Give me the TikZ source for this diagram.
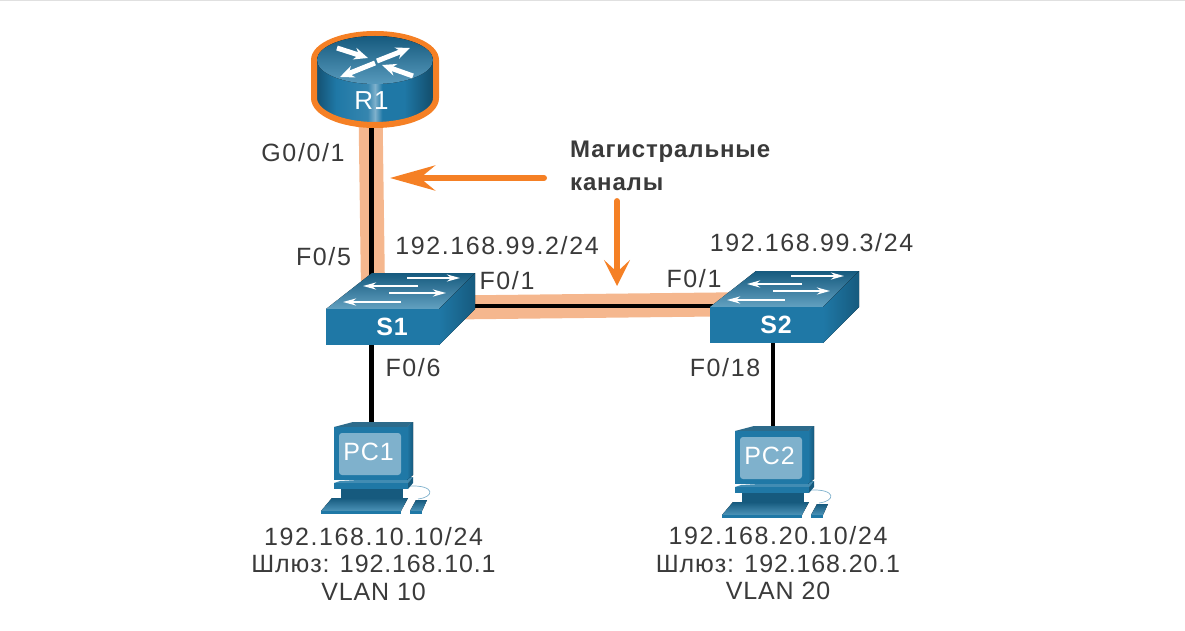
\documentclass[tikz,border=0pt]{standalone}
\usepackage{fontspec}
\setmainfont[LetterSpace=3.5]{Liberation Sans}
\newfontfamily\ipfont[LetterSpace=6.5]{Liberation Sans}
\usepackage{xcolor}
\usepackage{tikz}
\usetikzlibrary{arrows.meta,backgrounds}

\definecolor{trunkband}{HTML}{F5B78E}
\definecolor{callout}{HTML}{F58025}
\definecolor{textgray}{HTML}{3A3A3A}
\definecolor{devfront}{HTML}{1F78A6}
\definecolor{devdark}{HTML}{165A7E}
\definecolor{devlight}{HTML}{7FB1CC}

\pgfdeclarehorizontalshading{routerside}{100bp}{color(0bp)=(devdark!85!black); color(25bp)=(devdark!85!black); color(34bp)=(devfront); color(47bp)=(devfront!90!white); color(50bp)=(devlight); color(53bp)=(devfront); color(62bp)=(devfront); color(75bp)=(devdark!80!black); color(100bp)=(devdark!80!black)}

\newcommand{\switchdev}[4]{%
\begin{scope}[shift={(#1,#2)}]
\fill[top color=devdark, bottom color=devfront!70!white] (0,0) -- (46,-36) -- (149,-36) -- (113,0) -- cycle;
\fill[left color=devfront, right color=devdark] (113,0) -- (149,-36) -- (149,0) -- (113,36) -- cycle;
\fill[devfront] (0,0) rectangle (113,36);
\draw[minisw] (81,-31) -- (134,-31);
\draw[minisw] (92,-23) -- (37,-23);
\draw[minisw] (63,-16) -- (120,-16);
\draw[minisw] (75,-7) -- (17,-7);
\node[devlabel, font=\fontsize{25}{28}\selectfont\bfseries] (#3) at (66,18) {#4};
\end{scope}
}

\newcommand{\pcdev}[4]{%
\begin{scope}[shift={(#1,#2)}]
\draw[devlight, line width=0.7pt] (100,71) .. controls (125,70) and (125,82) .. (108,84);
\fill[devdark] (31,74) rectangle (93,83);
\fill[devfront!85!white] (30,66) -- (103,62) -- (98,68) -- (24,68) -- cycle;
\fill[devfront] (24,68) rectangle (98,74);
\fill[devdark] (98,68) -- (103,62) -- (103,68) -- (98,74) -- cycle;
\fill[left color=devfront, right color=devdark] (97,12) -- (103,7) -- (103,60) -- (97,65) -- cycle;
\fill[devdark!90!white] (24,12) -- (43,7) -- (103,7) -- (97,12) -- cycle;
\fill[devfront] (24,12) rectangle (97,65);
\fill[devlight, rounded corners=3pt] (29,18) rectangle (91,60);
\fill[top color=devdark, bottom color=devfront!80!white] (11,96) -- (22,83) -- (98,83) -- (91,96) -- cycle;
\fill[devfront] (11,96) rectangle (91,99);
\fill[top color=devdark, bottom color=devfront!80!white] (100,96) -- (106,85) -- (117,85) -- (112,96) -- cycle;
\fill[devfront] (100,96) rectangle (112,99);
\node[devlabel] (#3) at (58.5,37) {#4};
\end{scope}
}

\begin{document}
\begin{tikzpicture}[x=1pt, y=-1pt, >={Stealth},
 devlabel/.style={text=white, inner sep=0pt, font=\fontsize{25}{28}\selectfont},
 minisw/.style={-{Stealth[length=13pt,width=7pt]}, white, line width=2.5pt},
 minirt/.style={-{Stealth[length=14pt,width=12pt]}, white, line width=5pt},
 netlabel/.style={text=textgray, inner sep=0pt, align=center, font=\fontsize{25}{27.5}\selectfont},
 portlabel/.style={netlabel, font=\fontsize{25}{28}\ipfont},
 callarrow/.style={callout, line width=6pt, line cap=round},
 band/.style={trunkband, line width=24pt},
 cable/.style={black, line width=4.5pt}]

\useasboundingbox (0,0) rectangle (1185,631);
\draw[black!12, line width=1pt] (0,0.5) -- (1185,0.5);

% router
\fill[shading=routerside, draw=callout, line width=6pt] (314,60) arc[start angle=180, end angle=360, x radius=61, y radius=26] -- (436,98) arc[start angle=0, end angle=180, x radius=61, y radius=27] -- cycle;
\fill[top color=devdark, bottom color=devfront!75!white] (375,60) ellipse[x radius=58, y radius=24];
\draw[minirt] (337,48) -- (368,58);
\draw[minirt] (377,61) -- (410,48);
\draw[minirt] (375,63) -- (340,77);
\draw[minirt] (413,76) -- (382,65);
\node[devlabel, font=\fontsize{26}{28}\selectfont] (R1) at (371.5,101) {R1};

\switchdev{326}{309}{S1}{S1}
\switchdev{710}{307}{S2}{S2}
\pcdev{310}{415}{PC1}{PC1}
\pcdev{711}{419}{PC2}{PC2}

% links go under the devices
\begin{scope}[on background layer]
\draw[band] ([xshift=-1pt]R1.south) -- ([xshift=2pt]R1.south |- S1);
\draw[band] ([yshift=19pt]S1.east) -- ([yshift=21pt]S2.west);
\draw[cable] (R1.south) -- (R1.south |- S1);
\draw[cable] (R1.south |- S1) -- (R1.south |- PC1.north);
\draw[cable] ([yshift=21pt]S1.center) -- ([yshift=19pt]S2.center);
\draw[cable] ([xshift=-3pt]S2.south) -- ([xshift=-3pt]S2.south |- PC2.north);
\end{scope}

\node[portlabel] (g001) at (303,153) {G0/0/1};
\node[portlabel] (f05) at (323.5,257) {F0/5};
\node[portlabel] (ip2) at (497,246) {192.168.99.2/24};
\node[portlabel] (f01a) at (507,281) {F0/1};
\node[portlabel] (f01b) at (694,279) {F0/1};
\node[portlabel] (ip3) at (811.5,243) {192.168.99.3/24};
\node[portlabel] (f06) at (413,368) {F0/6};
\node[portlabel] (f018) at (725,368) {F0/18};
\node[netlabel] (pc1info) at (373.5,564) {{\ipfont 192.168.10.10/24}\\Шлюз: 192.168.10.1\\VLAN 10};
\node[netlabel] (pc2info) at (778,563.5) {{\ipfont 192.168.20.10/24}\\Шлюз: 192.168.20.1\\VLAN 20};
\node[netlabel, anchor=west, align=left, font=\fontsize{24}{33}\selectfont\bfseries] (trunks) at (570,166) {Магистральные\\каналы};

\coordinate (arrowA) at (390,178);
\coordinate (arrowB) at (617,286);
\draw[callarrow, -{Stealth[length=45pt,width=25pt,inset=15pt]}] (trunks.south west |- arrowA) ++(-26,0) -- (arrowA);
\draw[callarrow, -{Stealth[length=26pt,width=26pt,inset=12pt]}] (arrowB |- trunks.south) ++(0,10) -- (arrowB);
\end{tikzpicture}
\end{document}
